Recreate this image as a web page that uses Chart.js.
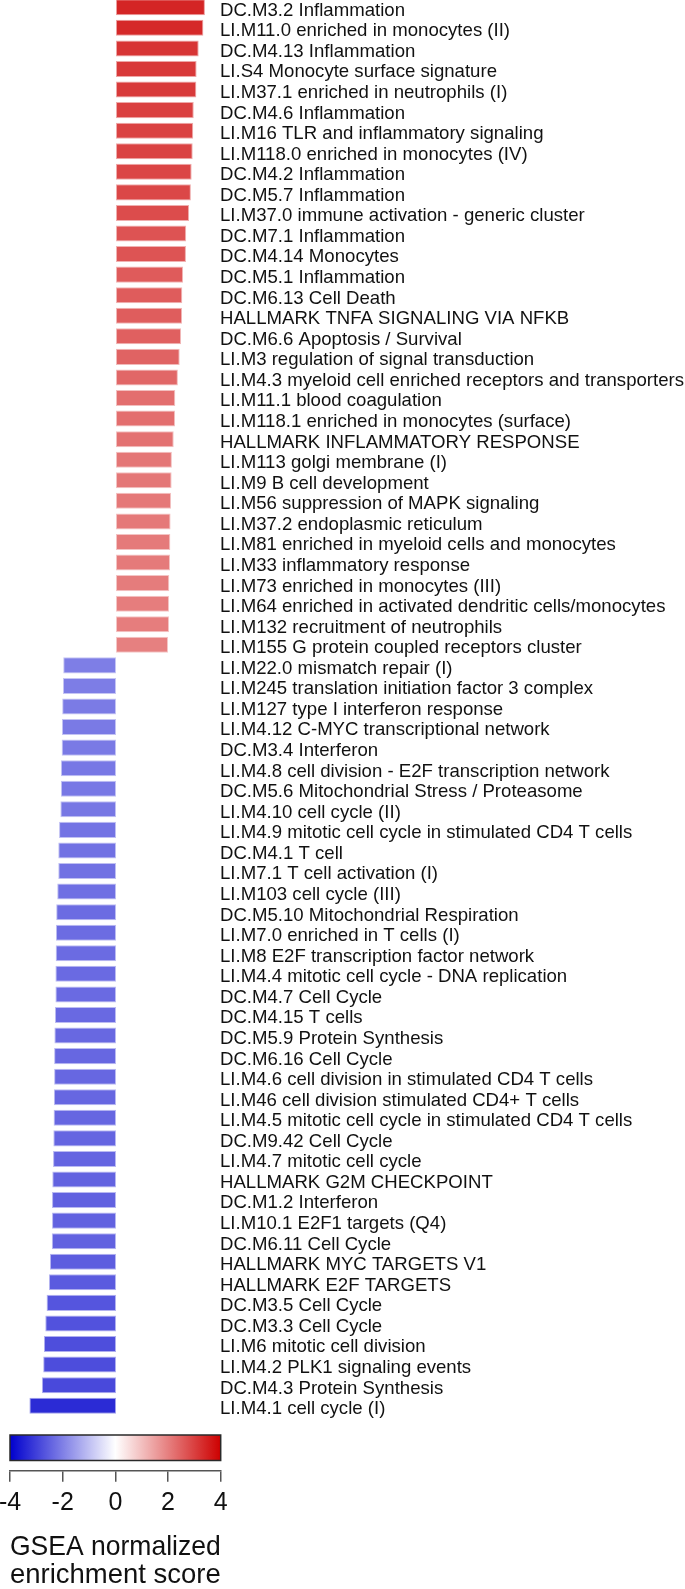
<!DOCTYPE html>
<html>
<head>
<meta charset="utf-8">
<script src="https://cdn.jsdelivr.net/npm/chart.js@4.4.0/dist/chart.umd.min.js"></script>
<style>
  html, body { margin: 0; padding: 0; background: #fff; overflow: hidden; }
  body { width: 685px; height: 1589px; position: relative; }
  #barsBox { position: absolute; left: 0; top: -2.8px; width: 685px; height: 1431px; }
  #keyBox { position: absolute; left: -20px; top: 1425px; width: 705px; height: 164px; }
</style>
</head>
<body>
<div id="barsBox"><canvas id="bars"></canvas></div>
<div id="keyBox"><canvas id="key"></canvas></div>
<script>
const geneSets = [
  "DC.M3.2 Inflammation",
  "LI.M11.0 enriched in monocytes (II)",
  "DC.M4.13 Inflammation",
  "LI.S4 Monocyte surface signature",
  "LI.M37.1 enriched in neutrophils (I)",
  "DC.M4.6 Inflammation",
  "LI.M16 TLR and inflammatory signaling",
  "LI.M118.0 enriched in monocytes (IV)",
  "DC.M4.2 Inflammation",
  "DC.M5.7 Inflammation",
  "LI.M37.0 immune activation - generic cluster",
  "DC.M7.1 Inflammation",
  "DC.M4.14 Monocytes",
  "DC.M5.1 Inflammation",
  "DC.M6.13 Cell Death",
  "HALLMARK TNFA SIGNALING VIA NFKB",
  "DC.M6.6 Apoptosis / Survival",
  "LI.M3 regulation of signal transduction",
  "LI.M4.3 myeloid cell enriched receptors and transporters",
  "LI.M11.1 blood coagulation",
  "LI.M118.1 enriched in monocytes (surface)",
  "HALLMARK INFLAMMATORY RESPONSE",
  "LI.M113 golgi membrane (I)",
  "LI.M9 B cell development",
  "LI.M56 suppression of MAPK signaling",
  "LI.M37.2 endoplasmic reticulum",
  "LI.M81 enriched in myeloid cells and monocytes",
  "LI.M33 inflammatory response",
  "LI.M73 enriched in monocytes (III)",
  "LI.M64 enriched in activated dendritic cells/monocytes",
  "LI.M132 recruitment of neutrophils",
  "LI.M155 G protein coupled receptors cluster",
  "LI.M22.0 mismatch repair (I)",
  "LI.M245 translation initiation factor 3 complex",
  "LI.M127 type I interferon response",
  "LI.M4.12 C-MYC transcriptional network",
  "DC.M3.4 Interferon",
  "LI.M4.8 cell division - E2F transcription network",
  "DC.M5.6 Mitochondrial Stress / Proteasome",
  "LI.M4.10 cell cycle (II)",
  "LI.M4.9 mitotic cell cycle in stimulated CD4 T cells",
  "DC.M4.1 T cell",
  "LI.M7.1 T cell activation (I)",
  "LI.M103 cell cycle (III)",
  "DC.M5.10 Mitochondrial Respiration",
  "LI.M7.0 enriched in T cells (I)",
  "LI.M8 E2F transcription factor network",
  "LI.M4.4 mitotic cell cycle - DNA replication",
  "DC.M4.7 Cell Cycle",
  "DC.M4.15 T cells",
  "DC.M5.9 Protein Synthesis",
  "DC.M6.16 Cell Cycle",
  "LI.M4.6 cell division in stimulated CD4 T cells",
  "LI.M46 cell division stimulated CD4+ T cells",
  "LI.M4.5 mitotic cell cycle in stimulated CD4 T cells",
  "DC.M9.42 Cell Cycle",
  "LI.M4.7 mitotic cell cycle",
  "HALLMARK G2M CHECKPOINT",
  "DC.M1.2 Interferon",
  "LI.M10.1 E2F1 targets (Q4)",
  "DC.M6.11 Cell Cycle",
  "HALLMARK MYC TARGETS V1",
  "HALLMARK E2F TARGETS",
  "DC.M3.5 Cell Cycle",
  "DC.M3.3 Cell Cycle",
  "LI.M6 mitotic cell division",
  "LI.M4.2 PLK1 signaling events",
  "DC.M4.3 Protein Synthesis",
  "LI.M4.1 cell cycle (I)"
];

const nesValues = [
  3.42, 3.36, 3.18, 3.10, 3.09, 2.99, 2.97, 2.95, 2.91, 2.88,
  2.81, 2.70, 2.69, 2.58, 2.55, 2.54, 2.50, 2.45, 2.38, 2.28,
  2.27, 2.22, 2.15, 2.14, 2.12, 2.10, 2.09, 2.08, 2.05, 2.04,
  2.04, 2.00,
  -2.03, -2.04, -2.07, -2.08, -2.09, -2.12, -2.12, -2.14, -2.19, -2.22,
  -2.22, -2.26, -2.30, -2.31, -2.32, -2.33, -2.33, -2.35, -2.37, -2.38,
  -2.38, -2.39, -2.40, -2.41, -2.42, -2.45, -2.46, -2.46, -2.47, -2.54,
  -2.58, -2.67, -2.72, -2.77, -2.80, -2.85, -3.33
];

const keyTicks = [-4, -2, 0, 2, 4];
const keyTitle = ["GSEA normalized", "enrichment score"];

// blue3 -> white -> red3
const lowColor = [0, 0, 205];
const midColor = [255, 255, 255];
const highColor = [205, 0, 0];

Chart.defaults.font.family = "'Liberation Sans', Arial, sans-serif";

function mix(a, b, t) {
  return a.map((c, i) => Math.round(c + (b[i] - c) * t));
}

function rgb(c) {
  return "rgb(" + c.join(",") + ")";
}

function rampColor(v) {
  const lo = keyTicks[0], hi = keyTicks[keyTicks.length - 1];
  const t = Math.max(-1, Math.min(1, v >= 0 ? v / hi : -v / lo));
  return v >= 0 ? mix(midColor, highColor, t) : mix(midColor, lowColor, -t);
}

new Chart(document.getElementById("bars"), {
  type: "bar",
  data: {
    labels: geneSets,
    datasets: [{
      data: nesValues,
      backgroundColor: nesValues.map((v) => rgb(rampColor(v))),
      borderColor: nesValues.map((v) => rgb(mix(rampColor(v), midColor, 0.55))),
      borderWidth: 1,
      borderSkipped: false,
      barPercentage: 0.78,
      categoryPercentage: 1,
    }],
  },
  options: {
    indexAxis: "y",
    responsive: true,
    maintainAspectRatio: false,
    animation: false,
    layout: { padding: { left: 12, right: 0, top: 0, bottom: 12 } },
    plugins: {
      legend: { display: false },
      tooltip: { enabled: false },
    },
    scales: {
      x: { display: false, min: keyTicks[0], max: keyTicks[keyTicks.length - 1] },
      y: {
        position: "right",
        grid: { display: false, drawTicks: false, tickLength: 0 },
        border: { display: false },
        ticks: {
          autoSkip: false,
          padding: 0,
          crossAlign: "near",
          labelOffset: 3.3,
          color: "#111",
          font: { size: 18.6 },
        },
        afterFit: (scale) => {
          scale.width = 465;
          scale.paddingTop = 0;
          scale.paddingBottom = 0;
        },
      },
    },
  },
});

const colorKey = {
  id: "colorKey",
  afterDraw(chart) {
    const { ctx, chartArea, scales } = chart;
    const x0 = scales.x.getPixelForValue(keyTicks[0]);
    const x1 = scales.x.getPixelForValue(keyTicks[keyTicks.length - 1]);
    const top = chartArea.top;
    const h = 25.5;
    const g = ctx.createLinearGradient(x0, 0, x1, 0);
    g.addColorStop(0, rgb(lowColor));
    g.addColorStop(0.5, rgb(midColor));
    g.addColorStop(1, rgb(highColor));
    ctx.save();
    ctx.fillStyle = g;
    ctx.fillRect(x0, top, x1 - x0, h);
    ctx.strokeStyle = "#2a2a2a";
    ctx.lineWidth = 1.5;
    ctx.strokeRect(x0, top, x1 - x0, h);
    ctx.restore();
  },
};

new Chart(document.getElementById("key"), {
  type: "scatter",
  data: { datasets: [] },
  options: {
    responsive: true,
    maintainAspectRatio: false,
    animation: false,
    layout: { padding: { left: 30, right: 464.3, top: 10, bottom: 0 } },
    plugins: {
      legend: { display: false },
      tooltip: { enabled: false },
    },
    scales: {
      x: {
        type: "linear",
        min: keyTicks[0],
        max: keyTicks[keyTicks.length - 1],
        afterBuildTicks: (scale) => {
          scale.ticks = keyTicks.map((v) => ({ value: v }));
        },
        afterFit: (scale) => {
          scale.height = 118.3;
        },
        grid: { drawOnChartArea: false, drawTicks: true, tickLength: 11, color: "#555", lineWidth: 1.5 },
        border: { display: true, color: "#555", width: 1.5 },
        ticks: { padding: 6, color: "#111", font: { size: 25 }, maxRotation: 0, autoSkip: false },
        title: {
          display: true,
          text: keyTitle,
          color: "#111",
          font: { size: 28, lineHeight: "28px" },
          padding: { top: 8, bottom: 0 },
        },
      },
      y: { display: false, min: 0, max: 1 },
    },
  },
  plugins: [colorKey],
});
</script>
</body>
</html>
